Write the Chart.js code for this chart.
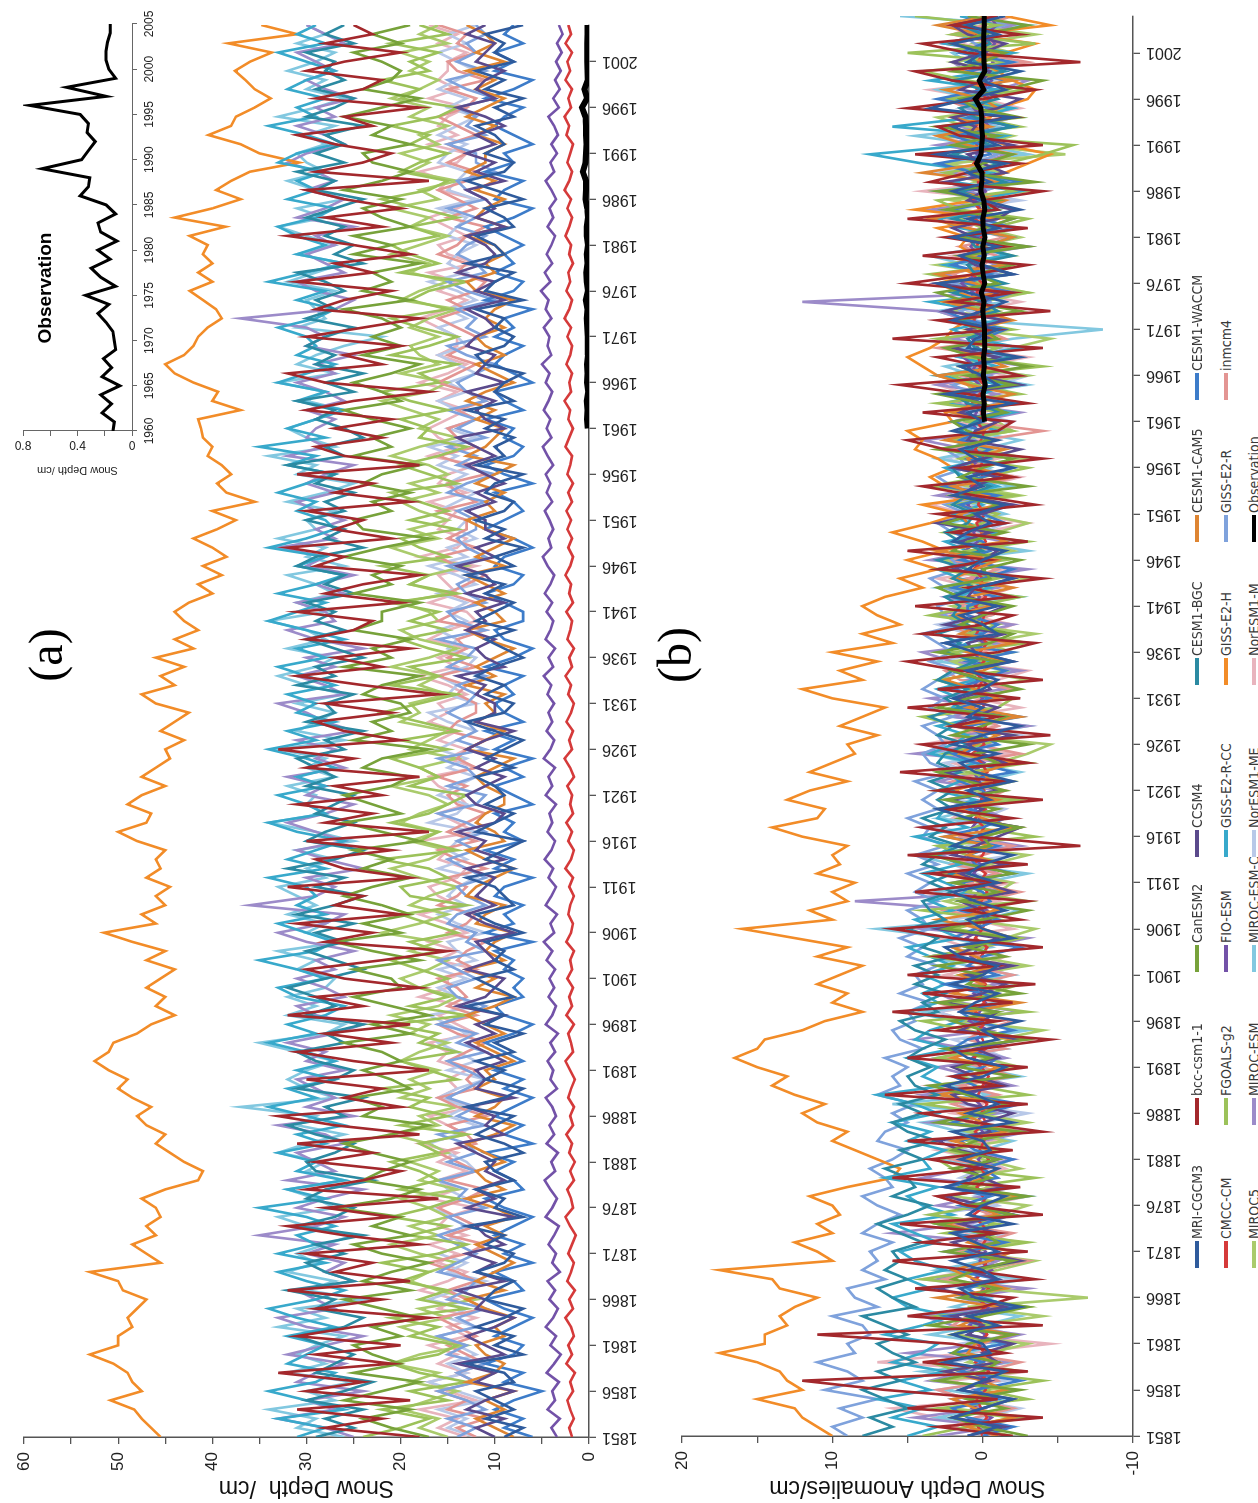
<!DOCTYPE html>
<html><head><meta charset="utf-8">
<script src="https://cdn.jsdelivr.net/npm/chart.js@4.4.0/dist/chart.umd.min.js"></script>
<style>
html,body{margin:0;padding:0;background:#fff;width:1258px;height:1503px;overflow:hidden;}
#wrap{position:absolute;left:0;top:0;width:1503px;height:1258px;transform-origin:0 0;transform:translate(0px,1503px) rotate(-90deg);background:#fff;}
#wrap canvas{position:absolute;}
.lbl{position:absolute;white-space:nowrap;color:#000;transform:translate(-50%,-50%);}
.leg{position:absolute;height:18px;display:flex;align-items:center;overflow:hidden;white-space:nowrap;font:14px "Liberation Sans Narrow","DejaVu Sans Condensed",Arial,sans-serif;color:#3a3a3a;}
.leg i{display:inline-block;width:27px;height:4px;margin-right:2px;flex:none;}
</style></head><body>
<div id="wrap">
<canvas id="cA" width="1503" height="650" style="left:0;top:0"></canvas>
<canvas id="cB" width="1503" height="545" style="left:0;top:645px"></canvas>
<canvas id="cI" width="518" height="170" style="left:985px;top:0"></canvas>
<div class="lbl" style="left:848px;top:45px;font:48px 'Liberation Serif','Times New Roman',serif;">(a)</div>
<div class="lbl" style="left:848px;top:674px;font:48px 'Liberation Serif','Times New Roman',serif;">(b)</div>
<div class="lbl" style="left:1215px;top:45px;font:bold 19px 'Liberation Sans',Arial,sans-serif;">Observation</div>
<div id="legend"></div>
</div>
<script>
// ---------- categories / ticks ----------
const years = []; for (let y = 1851; y <= 2005; y++) years.push(y);
const obsYears = []; for (let y = 1960; y <= 2005; y++) obsYears.push(y);
const yearTicks = [1851,1856,1861,1866,1871,1876,1881,1886,1891,1896,1901,1906,1911,1916,1921,1926,1931,1936,1941,1946,1951,1956,1961,1966,1971,1976,1981,1986,1991,1996,2001];
const insetYearTicks = [1960,1965,1970,1975,1980,1985,1990,1995,2000,2005];
const depthTickMarks = [0,5,10,15,20,25,30,35,40,45,50,55,60];
const depthTickLabels = [0,10,20,30,40,50,60];
const anomTickMarks = [-10,-5,0,5,10,15,20];
const anomTickLabels = [-10,0,10,20];
const obsTickMarks = [0,0.2,0.4,0.6,0.8];
const obsTickLabels = [0,0.4,0.8];

// ---------- panel (a): snow depth (cm), 1851-2005 ----------
const aMRI = [
9,7,11,8,10,12,8,9,13,7,
10,8,12,9,7,11,10,8,12,9,
8,11,9,13,7,10,9,12,8,10,
11,7,9,12,10,8,13,9,7,11,
9,12,8,10,7,11,9,13,8,10,
12,8,10,9,11,7,10,12,8,9,
10,13,8,11,9,7,12,10,8,11,
9,10,12,8,11,9,7,10,13,9,
8,11,9,12,10,7,9,11,8,12,
10,8,11,9,13,8,10,7,11,9,
12,9,8,11,10,7,12,9,10,8,
11,9,13,8,10,9,7,11,12,9,
8,10,9,12,7,11,10,8,13,9,
10,12,8,9,11,7,10,13,9,8,
11,9,10,12,8,10,7,11,9,12,
8,10,9,11,7];
const aBCC = [
18,28,22,31,19,30,24,33,21,29,
20,31,25,17,29,22,32,19,27,23,
30,18,26,32,21,28,16,30,24,20,
29,23,31,18,27,33,20,26,22,30,
17,25,31,21,28,19,32,24,29,18,
26,30,22,15,28,23,31,20,27,24,
32,19,26,29,21,30,17,28,23,31,
22,27,18,30,25,33,20,26,29,21,
28,16,24,31,22,27,19,30,25,23,
31,20,28,24,18,29,26,32,21,27,
24,30,19,27,23,31,18,26,29,22,
27,21,30,25,17,28,32,22,26,20,
30,24,18,29,26,21,31,23,27,19,
25,32,22,28,20,26,30,17,29,24,
21,27,31,23,26,18,29,24,22,30,
26,20,28,23,25];
const aCan = [
17,21,24,19,26,22,18,25,20,23,
25,20,23,18,22,26,19,24,21,17,
22,25,19,23,20,27,21,18,24,22,
19,23,26,21,17,24,22,25,19,21,
24,20,22,26,19,23,17,21,25,20,
21,25,18,23,27,20,24,19,22,26,
23,19,24,21,25,18,22,26,20,23,
26,21,19,24,22,17,25,21,23,19,
20,24,22,18,26,21,23,19,25,22,
22,18,25,21,23,20,26,22,17,24,
25,21,23,19,24,22,18,25,21,23,
19,23,26,20,22,25,21,18,24,20,
23,20,22,26,19,24,21,23,18,25,
21,25,19,22,24,20,26,22,19,23,
24,19,23,21,26,22,18,24,21,20,
22,25,20,23,19];
const aCCSM4 = [
10,12,9,13,11,8,12,10,14,9,
11,13,10,8,12,11,14,9,12,10,
13,9,11,12,8,13,10,12,9,11,
10,12,14,9,11,10,13,8,12,11,
12,9,11,13,10,12,9,14,11,10,
9,13,10,11,12,8,11,13,10,12,
11,10,13,9,12,11,14,10,9,12,
13,11,9,12,10,13,11,8,12,10,
10,12,11,14,9,11,12,10,13,11,
12,9,13,10,11,14,10,12,9,11,
11,13,10,12,9,11,13,10,12,14,
9,11,12,10,13,9,12,11,10,13,
12,10,11,13,9,12,10,14,11,10,
11,13,9,12,10,11,13,9,12,10,
13,10,12,9,11,14,10,12,11,9,
12,11,10,13,11];
const aBGC = [
29,25,28,24,30,26,23,29,27,25,
28,31,26,24,29,27,32,25,28,30,
26,29,24,31,27,25,30,28,23,29,
30,27,25,29,32,26,28,24,31,27,
25,29,31,26,28,24,30,27,29,32,
28,24,27,30,26,29,25,31,27,24,
29,26,32,27,24,30,28,25,29,27,
25,30,27,29,31,26,28,24,30,27,
28,25,31,27,29,24,27,30,26,29,
27,30,25,28,26,31,29,24,28,26,
30,26,28,25,29,27,32,26,28,24,
26,29,27,31,25,28,24,29,27,30,
28,25,30,27,29,26,28,31,24,27,
25,28,26,30,27,24,29,27,31,26,
29,26,28,24,30,27,25,29,26,28,
27,30,25,28,26];
const aCAM5 = [
8,10,12,9,11,8,13,10,9,11,
12,9,10,8,11,13,9,12,10,8,
10,12,9,11,8,10,13,9,11,12,
9,11,13,10,8,12,10,9,12,10,
11,8,10,12,9,11,13,10,8,12,
10,13,9,11,10,8,12,11,9,13,
12,10,8,11,13,9,10,12,11,9,
9,11,12,10,8,13,11,9,12,10,
11,9,13,10,12,10,8,11,13,9,
10,12,9,11,13,9,12,10,8,11,
13,10,11,9,12,10,8,13,11,10,
9,12,10,13,11,8,10,12,9,11,
12,9,11,10,8,12,13,10,11,9,
10,13,9,12,11,9,12,10,13,11,
11,9,12,10,13,11,9,12,10,13,
9,12,10,11,13];
const aWACCM = [
6,9,7,10,8,5,9,7,11,8,
7,10,8,6,9,11,7,8,10,6,
9,7,10,8,6,9,11,7,8,10,
8,11,6,9,7,10,8,6,9,7,
10,7,9,11,8,6,9,10,7,8,
7,9,8,10,6,11,8,9,7,10,
9,6,10,8,11,7,9,8,10,6,
8,10,7,9,6,10,8,11,7,9,
10,8,9,7,11,8,6,9,10,7,
7,9,11,8,7,10,9,6,8,11,
9,7,8,10,6,9,11,8,7,9,
8,11,7,9,10,6,8,10,9,7,
10,8,9,6,11,8,7,10,8,9,
7,9,11,8,6,10,9,7,11,8,
9,6,8,10,9,7,11,8,6,10,
8,10,7,9,8];
const aCMCC = [
1.8,2.1,1.6,2.0,2.3,1.7,2.0,1.5,2.4,1.8,
2.2,1.6,1.9,2.5,1.7,2.1,1.5,2.3,1.9,1.6,
2.2,1.8,1.4,2.0,2.5,1.7,1.9,2.3,1.6,2.0,
1.5,2.1,1.8,2.4,1.7,2.0,1.6,2.2,1.9,1.5,
2.0,2.5,1.7,1.9,2.2,1.6,2.4,1.8,2.1,1.7,
2.3,1.8,2.0,1.6,2.4,1.9,1.7,2.2,2.0,1.6,
2.1,1.7,2.5,1.9,1.6,2.2,1.8,2.4,1.7,2.0,
1.8,2.3,1.6,2.0,2.6,1.8,2.1,1.7,2.4,1.9,
1.6,2.2,1.9,2.5,1.8,2.1,1.6,2.3,2.0,1.8,
2.4,1.7,2.1,1.9,2.5,2.0,1.7,2.2,1.8,2.3,
1.9,2.4,1.8,2.2,1.7,2.3,2.0,1.8,2.5,2.1,
1.7,2.2,2.0,2.6,1.9,2.1,1.8,2.4,2.0,1.8,
2.3,1.9,2.6,2.1,1.8,2.4,2.0,2.2,1.7,2.1,
1.9,2.5,2.1,1.8,2.3,1.9,2.6,2.1,1.8,2.3,
2.0,1.7,2.4,2.1,2.6,1.9,2.2,1.8,2.5,2.0,
2.3,1.8,2.5,1.9,2.2];
const aFGOALS = [
24,20,17,22,15,19,13,18,21,16,
14,19,16,21,13,18,15,20,17,22,
16,13,19,15,21,17,14,20,16,18,
21,16,18,13,20,15,19,17,22,14,
17,20,14,18,16,21,13,19,15,18,
15,18,21,16,19,14,17,20,13,19,
20,15,17,22,14,18,16,21,17,15,
13,19,16,18,21,15,20,14,18,22,
18,14,21,16,19,13,17,20,15,19,
16,21,14,19,17,22,15,18,20,14,
19,15,18,21,14,17,20,16,13,18,
17,20,15,19,22,16,18,14,21,17,
14,18,21,15,19,17,13,20,16,19,
21,16,19,14,18,22,17,15,20,18,
15,19,17,21,16,14,20,18,22,17,
19,16,21,15,18];
const aFIO = [
3.4,4.0,3.1,4.4,3.6,3.9,3.2,4.5,3.7,3.0,
4.1,3.5,4.6,3.8,3.3,4.2,3.6,4.4,3.1,3.9,
3.5,4.3,3.7,3.2,4.6,3.9,3.4,4.1,4.7,3.6,
4.0,3.3,4.5,3.7,4.2,3.5,3.9,4.6,3.4,4.1,
3.8,4.4,3.6,4.1,3.3,4.6,3.9,3.5,4.3,3.7,
4.2,3.6,4.5,3.9,4.8,3.7,4.1,3.4,4.6,4.0,
3.5,4.3,3.8,4.7,4.0,3.6,4.4,3.9,4.2,3.5,
4.6,3.9,4.3,3.6,4.8,4.1,3.7,4.5,3.9,4.3,
3.7,4.4,4.0,4.8,3.8,4.3,3.6,4.6,4.1,3.8,
4.5,3.9,4.7,4.1,3.7,4.4,4.9,4.0,4.3,3.8,
4.2,4.7,3.9,4.5,4.1,4.6,3.8,4.4,4.9,4.0,
4.5,4.1,4.8,4.3,3.9,4.6,4.2,5.0,4.0,4.4,
4.2,4.8,4.0,4.6,4.3,5.1,4.1,4.7,3.9,4.5,
4.0,3.6,4.4,3.8,4.2,3.5,4.0,4.6,3.7,4.1,
3.4,4.0,3.3,3.7,4.3,3.2,3.8,3.1,3.6,3.0,
3.5,2.9,3.4,2.8,3.2];
const aGISSRCC = [
31,28,33,26,30,34,29,27,32,30,
28,32,27,31,34,29,26,30,33,28,
33,29,31,27,30,35,28,32,26,31,
29,33,28,31,26,30,34,29,32,27,
31,27,30,34,29,32,28,26,31,33,
28,31,35,29,27,30,33,28,31,29,
30,34,28,32,29,26,31,34,28,30,
33,28,31,27,30,34,29,32,27,31,
29,32,27,30,33,28,31,26,30,34,
31,28,33,29,26,31,28,34,30,27,
28,31,29,33,30,27,32,29,35,28,
32,29,26,31,28,33,30,27,31,29,
30,33,29,27,31,28,34,30,26,31,
28,31,33,29,27,32,29,31,28,33,
31,27,30,34,29,31,28,32,30,27,
30,33,28,31,29];
const aGISSH = [
45.5,46.5,47.5,48.3,50.8,47.5,48.5,49,50.5,53,
50,50,48.5,49,48,47,49.5,50,53,45.5,
47,48.5,46,47,45.5,46,47.5,45,41.5,41,
43,44.5,46,45,47,48,46.5,48.5,50,49,
51,52.5,51,50.5,48,46.5,44,46,45,47,
45.5,44,47,45,48.5,51.5,46,47.5,45,46,
44.5,47,45.5,46,45,48,50,47,46.5,49,
47.5,45,47.5,46,44.5,45,43,45.5,44,42.5,
46,47.5,44,45.5,43,46,42,44,41.5,43,
44,42.5,40,41.5,39,41,38.5,40,42,39.5,
37.5,40,35.5,38.5,39.5,38,39,40.5,40,41,
41.2,41.5,37,40,39.4,42,44,45,43,42,
41.5,40.5,39,39.6,41,42.4,40,41.5,40,41,
40.5,42.4,38.6,44,40,37,39.6,38,36,30.8,
35,37,40.4,38,37.5,35.5,33.8,35.5,36.5,37.6,
36,33.7,38.3,31,34.8];
const aGISSR = [
14,12,15,11,13,16,12,14,11,15,
13,16,12,14,11,15,13,12,16,14,
12,14,16,13,15,11,14,13,16,12,
15,12,13,16,11,14,12,15,13,11,
13,15,11,14,12,16,13,11,14,15,
12,14,16,11,13,12,15,14,11,13,
14,11,13,15,12,14,11,13,16,12,
11,15,12,13,16,11,14,12,13,15,
13,12,14,11,15,13,12,16,11,14,
15,11,13,14,12,15,11,13,14,12,
12,14,11,15,13,10,14,12,15,11,
14,12,15,11,13,14,12,10,13,15,
11,13,12,14,10,13,15,11,12,14,
13,11,14,12,15,11,13,14,10,12,
12,15,11,13,12,14,10,13,15,11,
14,12,13,11,12];
const aINM = [
12,14,11,15,13,16,12,14,11,13,
15,12,14,16,11,13,15,12,14,17,
13,11,15,12,14,16,13,11,15,12,
14,16,12,13,15,11,14,16,12,13,
12,15,13,11,14,16,12,15,13,14,
16,12,14,13,11,15,13,12,16,14,
13,15,11,14,16,12,15,13,11,14,
15,13,16,12,14,13,11,15,14,12,
12,14,13,16,12,15,13,14,11,16,
14,12,15,13,11,14,16,12,15,13,
13,16,12,14,15,11,13,16,12,14,
15,12,14,11,13,16,14,12,15,13,
12,14,16,13,15,12,11,14,13,16,
14,13,11,15,12,14,16,13,12,15,
13,15,12,14,16,13,12,15,11,14,
15,12,14,13,16];
const aMIROC5 = [
15,18,16,20,17,14,19,16,21,18,
13,17,20,15,18,12,16,19,17,14,
18,21,16,19,15,17,20,14,18,16,
19,15,17,21,16,18,14,20,17,19,
16,20,18,15,19,17,21,16,14,18,
20,17,15,19,16,22,18,15,19,17,
14,18,21,17,15,19,16,20,18,15,
17,21,16,18,14,19,17,15,20,18,
19,15,18,16,21,17,14,18,20,16,
17,20,15,19,17,13,18,21,16,19,
15,18,20,16,19,15,17,21,18,14,
18,16,19,22,17,15,20,16,18,19,
16,19,17,14,20,18,15,19,17,21,
18,15,19,17,21,16,18,14,19,17,
20,16,18,15,19,17,21,18,16,19,
17,20,15,18,16];
const aMESM = [
25,28,33,27,30,24,31,29,26,32,
28,24,30,33,27,29,31,25,28,26,
30,27,35,29,26,31,28,24,32,27,
29,31,26,28,33,25,30,27,29,31,
26,30,28,32,27,24,29,31,26,28,
31,27,29,25,30,33,28,26,36,29,
27,30,24,28,31,26,29,32,28,25,
30,28,32,26,29,27,31,25,28,30,
33,26,28,31,27,30,24,29,32,27,
28,31,26,29,25,30,28,33,27,29,
26,29,31,27,30,28,25,32,28,30,
29,27,30,26,28,31,27,29,25,30,
28,30,37,27,25,29,31,26,28,30,
27,29,25,31,28,26,30,27,29,32,
30,26,28,31,27,29,25,28,30,27,
29,31,26,28,30];
const aMCHEM = [
26,31,29,34,27,30,25,32,28,31,
29,26,33,28,31,24,30,27,32,29,
31,28,25,30,33,27,29,32,26,30,
28,33,30,26,31,29,37,27,30,32,
30,27,31,35,28,26,32,29,32,28,
27,31,29,33,26,30,28,32,29,31,
33,28,30,27,31,25,29,34,28,30,
29,32,27,30,28,33,26,31,29,27,
31,26,30,33,29,27,32,28,30,34,
28,31,27,29,32,26,30,28,33,29,
30,27,32,28,25,31,29,34,27,30,
32,29,26,30,28,33,27,31,29,26,
22,31,28,29,30,27,32,29,26,31,
27,30,33,28,31,26,29,32,28,30,
31,28,30,27,33,29,26,30,28,32,
29,27,31,28,30];
const aNorME = [
12,15,13,16,11,14,17,13,15,12,
14,16,12,15,13,17,14,11,15,13,
16,13,15,12,14,17,13,15,16,12,
13,15,17,14,12,15,13,16,14,11,
15,12,14,16,13,15,17,12,14,16,
13,16,12,14,15,11,14,16,13,15,
14,12,16,13,15,14,12,17,14,13,
16,14,12,15,13,16,14,12,15,17,
12,15,14,16,13,12,15,14,16,13,
15,13,16,12,14,17,13,15,12,14,
13,16,14,12,15,13,16,14,17,12,
15,12,14,16,13,15,12,14,16,13,
14,16,13,15,12,14,17,13,15,14,
12,15,14,13,16,12,15,14,13,16,
15,13,16,14,12,15,13,16,14,12,
14,16,13,15,12];
const aNorM = [
13,16,14,18,12,15,17,13,16,14,
17,13,15,12,16,14,18,15,13,16,
14,17,13,16,15,12,17,14,16,13,
16,14,18,13,15,17,12,16,14,15,
13,16,15,17,12,14,16,13,18,15,
15,12,16,14,17,13,15,18,14,16,
17,14,13,16,15,18,12,14,16,13,
14,16,17,12,15,13,16,14,17,15,
16,13,15,18,14,16,13,17,15,12,
13,17,14,15,16,12,18,14,13,16,
15,14,17,13,16,15,12,17,14,16,
17,15,13,16,14,18,15,13,16,14,
14,16,18,15,13,16,14,17,12,15,
16,13,15,17,14,12,16,15,18,14,
13,17,14,16,15,13,17,14,16,15,
15,13,16,14,17];
// observation 1960-2005
const obs = [
0.14,0.13,0.22,0.15,0.23,0.09,0.22,0.15,0.21,0.12,
0.13,0.14,0.19,0.25,0.17,0.34,0.12,0.23,0.30,0.16,
0.25,0.11,0.23,0.25,0.12,0.19,0.38,0.32,0.31,0.66,
0.37,0.32,0.27,0.33,0.32,0.38,0.75,0.19,0.48,0.12,
0.17,0.19,0.19,0.18,0.16,0.16];

// ---------- panel (b): snow depth anomalies (cm), 1851-2005 ----------
const bMRI = [
1,-1,2,0,-2,1.5,0,-1.5,2.5,-0.5,
0,2,-1,1,-2.5,0.5,1.5,-1,0,2,
-1,0.5,2,-2,1,0,-1.5,2.5,0.5,-1,
1.5,-0.5,0,2,-2,1,-1,0.5,2.5,0,
-1.5,1,2,-1,0,-2.5,1.5,0.5,-1,2,
0,-1,1.5,2.5,-2,0,1,-1.5,0.5,2,
-1,1,0,-2,2,0.5,-1.5,1,3,-0.5,
1,-2,0.5,1.5,-1,2,0,-2.5,1,0,
2,0,-1,1,-2,0.5,2.5,-1,0,1.5,
-1,2,0.5,-2,1,0,-1.5,2,1,-0.5,
0.5,-1.5,2,0,1,-2,0.5,1.5,-1,2,
0,1,-2,2.5,-1,0,1.5,-2.5,1,0.5,
-1,2,0,-1.5,1,3,-2,0,1.5,-1,
2,-1,1,-2.5,0,2,-0.5,1,-1.5,3,
-1,0.5,2,-2,3.5,1,-1.5,0,-2.5,1,
0,2,-1,1,-1.5];
const bBCC = [
-2,3,-4,5,-1,6.5,12,-3,4,-1.5,
2,11,-4,5,0,-2,4.5,-3.5,1,6,
-3,4,-1,5.5,-4,1,3,-2.5,6,0,
3.5,-2,5,-4,0.5,4,-3,6.5,-1,2,
-3,5,0,-4.5,3,-1,6,-2,4,-3.5,
5,-1,3,-4,2,6,-2.5,1,-3,4.5,
-1,3.5,-3,5,-6.5,0.5,4,-2,2.5,-4,
3,-1.5,5.5,-3,1,4,-4.5,2,-1,5,
-2.5,3,-4,1.5,5,-1,-3.5,4,0,-2,
4.5,-2,1,-4,3,-0.5,5,-3,2,-1.5,
3,-3.5,0.5,4,-2,1.5,-4,2.5,5,-1,
-2,4,-3,1,5.5,-2.5,0,3,-4,6,
-1,3,-4.5,2,-2,5,0.5,-3,4,-1.5,
2.5,-3,5,-1,0,-4,3.5,1,-2.5,4.5,
-4,1.5,3,-2,5,0,-3.5,2,4.5,-6.5,
1,4,-2.5,2,-1];
const bCan = [
-3,0,2,-1.5,1,-2.5,3,0,-1,2,
1,-2,3.5,0,-3,1.5,-1,2,0.5,-2,
2.5,-1,0,3,-2,1,-3,1.5,-0.5,2,
-1,2,0.5,-2.5,3,0,-1.5,1,3.5,-2,
1.5,-0.5,2.5,-3,0,2,-1,3,-2.5,1,
0,3,-1.5,1,-2,2.5,0,-3,1.5,-1,
2,-2,1,3.5,-0.5,0,-2.5,1.5,-1,2.5,
-1.5,1,3,-1,0.5,-3,2,0,-1.5,3,
1,-2.5,0,2,-1,3,-0.5,-2,1.5,0,
-2,1.5,3,-0.5,0,-2.5,2,1,-1.5,2.5,
0.5,-1,2,-3,1.5,0,-2,3,-0.5,1,
2,-1.5,0,3,-2,1,-3,0.5,2.5,-1,
0,2,-2.5,1,3,-1,0.5,-2,1.5,-3,
1.5,0,-2,2.5,-1,3,-3.5,1,0,-2,
2,-1,3,-2.5,0.5,1.5,-1.5,-4,2,0,
-1.5,2,0,-3,1];
const bCCSM4 = [
1,-1.5,2,0,-2,1.5,-0.5,2.5,-1,0,
-2,1,0,2,-1.5,0.5,3,-1,1,-2.5,
0.5,2,-1,1.5,-2,0,2.5,-1.5,0,1,
-1,1.5,3,-0.5,0,-2,1,2,-1.5,0.5,
2,-1,0.5,-2.5,1.5,0,-1,2.5,0,-1.5,
1,-2,2,0.5,-1,3,-0.5,0,1.5,-2,
0,1.5,-1.5,2,0.5,-1,-2.5,1,0,2,
-1,0.5,2.5,-1.5,0,1,-2,2,0.5,-1,
1.5,-0.5,0,2,-2,0.5,1,-1.5,2.5,0,
-1.5,1,0.5,-2,2,0,-1,1.5,-0.5,3,
0,-2,1.5,0.5,-1,2,0,-2.5,1,0.5,
-1,1.5,0,2,-2.5,0.5,1,-1,2,-0.5,
1,-1.5,2.5,0,-1,3,-2,0.5,1.5,-1,
0.5,2,-1,-2,1,0,2.5,-1.5,0,1,
-2,1,0.5,2,-1,-2.5,1.5,0,-0.5,2,
0,-1.5,1,2,-1];
const bBGC = [
8,6,7.5,5,6.5,8,5.5,7,4.5,6,
7,5,6.5,8,4.5,6,7,5,6.5,5.5,
6,4,5.5,7,5,3.5,6,4.5,5,6.5,
4,5.5,3,5,6,4,5.5,3,4.5,5,
3.5,5,4,2.5,4.5,5.5,3,4,2.5,4.5,
3,4.5,2,4,3,5,2.5,3.5,4,2,
3.5,2,4,3,1.5,3.5,2.5,4,2,3,
2,3.5,1.5,3,2.5,1,3,2,3.5,1.5,
2.5,1,3,2,0.5,2.5,1.5,3,1,2,
1.5,2.5,0.5,2,1,3,0,1.5,2.5,1,
0.5,2,1,-0.5,1.5,2,0,1,-0.5,1.5,
0.5,-1.5,1,2,-1,0,1.5,-2,0.5,1,
-0.5,1.5,-1,0,2,-1.5,0.5,1,-2,0.5,
1,-1,2,-0.5,0,1.5,-1.5,0.5,-1,2,
-0.5,1,-2,0.5,1.5,-1,0,2,-1.5,0.5,
1,-0.5,0,1.5,-1];
const bCAM5 = [
-1,1,-2,0.5,2,-1.5,0,2.5,-1,1,
0.5,-2,1.5,0,-1,3,-1.5,0.5,2,-0.5,
-2,1,0,2.5,-1,0.5,-2.5,1.5,0,-1,
1,-0.5,2,-1.5,0,1.5,-2,3,-1,0.5,
-1,2,0,-2,1.5,-0.5,1,-2.5,2,0,
1.5,-1,0.5,2,-2,0,3,-1,0.5,-1.5,
0,2,-1.5,1,-0.5,2.5,-2,0,1.5,-1,
2,-0.5,0,-2,1.5,0.5,-1,2,-2.5,1,
-1,0.5,2.5,0,-1.5,1,-2,1.5,0,2,
-0.5,1,-2,2,0.5,-1,3,-1.5,0,1,
1.5,-1,0,2,-2,0.5,1,-1.5,2.5,0,
-1,2,0.5,-2,1,3,-1.5,0,2,-1,
1,-2,0,2.5,-1,0.5,3,-1.5,1,0,
-2,1,3.5,0,-1.5,2,-1,4,0,-2,
1,3,-0.5,2,-1,0,2.5,-2,1.5,0.5,
-1,2,0,3,-0.5];
const bWACCM = [
0,-2,1,2,-1,0.5,-2.5,1.5,0,2,
-1.5,1,0,2.5,-2,0,1,-1,2,-0.5,
1,-1.5,2,0,-2,1.5,-0.5,2.5,-1,0,
-2,0.5,1.5,-1,2,0,-2.5,1,0.5,2,
0,-1,2,1,-2,0.5,1.5,-1.5,0,2.5,
-1,1,0,-2.5,2,0.5,-1,1.5,-0.5,0,
1.5,-2,0.5,1,-1,2.5,0,-1.5,1,-0.5,
0,1.5,-2,0.5,2,-1,0,1,-2.5,1.5,
-0.5,2,0,-1.5,1,-2,2.5,0,-1,1,
1,-1,2,0,-2,1.5,-0.5,0,2,-1.5,
0,1.5,-1,2.5,0,-2,1,-0.5,1.5,0,
2,-1,0,1.5,-2.5,0.5,1,-1,2,0,
-1.5,1,2.5,0,-2,1,-0.5,2,0,-1,
1,-2,0,2,-1,1.5,-2.5,0.5,3,-0.5,
0,2,-2,1,-0.5,3,0,-1.5,1,-2,
1.5,0,-1,2,0.5];
const bCMCC = [
0,0.3,-0.3,0.1,0.4,-0.2,0.1,-0.4,0.5,-0.1,
0.3,-0.3,0,0.6,-0.2,0.2,-0.4,0.4,0,-0.3,
0.3,-0.1,-0.5,0.1,0.6,-0.2,0,0.4,-0.3,0.1,
-0.4,0.2,-0.1,0.5,-0.2,0.1,-0.3,0.3,0,-0.4,
0.1,0.6,-0.2,0,0.3,-0.3,0.5,-0.1,0.2,-0.2,
0.4,-0.1,0.1,-0.3,0.5,0,-0.2,0.3,0.1,-0.3,
0.2,-0.2,0.6,0,-0.3,0.3,-0.1,0.5,-0.2,0.1,
-0.1,0.4,-0.3,0.1,0.7,-0.1,0.2,-0.2,0.5,0,
-0.3,0.3,0,0.6,-0.1,0.2,-0.3,0.4,0.1,-0.1,
0.5,-0.2,0.2,0,0.6,0,0.3,-0.2,0.1,0.4,
-0.2,0.3,0.1,0.7,0,0.2,-0.1,0.5,0.1,-0.1,
0.4,0,0.7,0.2,-0.1,0.5,0.1,0.3,-0.2,0.2,
0,0.6,0.2,-0.1,0.4,0,0.7,0.2,-0.1,0.4,
0.1,-0.2,0.5,0.2,0.7,0,0.3,-0.1,0.6,0.1,
0.4,-0.2,0.5,-0.1,0.3,-0.3,0.4,0,-0.2,0.3,
0,-0.3,0.4,-0.2,0.1];
const bFGOALS = [
4,1,-2,3,-3,0,-4,1.5,3.5,-1,
-2,2,-0.5,3,-3,1,-1.5,4,0,-2.5,
1,-3,2.5,-1,3.5,0,-2,1,-3.5,2,
3,-1,1,-2.5,2,-0.5,4,-3,0.5,1.5,
-1.5,3,0,-2,1,4,-3,2,-0.5,-2.5,
1.5,-1,3.5,0,-2.5,2,-1,4,-3,1,
0,2.5,-2,1,3,-3.5,0.5,-1,2,-2.5,
3,-1.5,1,-3,2.5,0,-2,1.5,4,-1,
-2,1,3,-1.5,0,2,-3,1,-1,3.5,
0.5,-2.5,2,-1,3,-1.5,1,-3,2.5,0,
-1,2,-2,3.5,0,-3,1.5,-0.5,2,-2,
1,-1.5,3,-2.5,0.5,2,-4,1,-1,3,
-2,1.5,-1,2.5,-3,0,3.5,-1.5,1,-2.5,
2,-0.5,-3,1.5,3,-2,0,2.5,-1.5,-4,
-6,3,-2.5,0.5,-1,2.5,-3,1,4,-2,
5,-3.5,2,-1,4.5];
const bFIO = [
-0.3,0.3,-0.6,0.7,-0.1,0.2,-0.5,0.8,0,-0.7,
0.4,-0.2,0.9,0.1,-0.4,0.5,-0.1,0.7,-0.6,0.2,
-0.2,0.6,0,-0.5,0.9,0.2,-0.3,0.4,1,-0.1,
0.3,-0.4,0.8,0,0.5,-0.2,0.2,0.9,-0.3,0.4,
0.1,0.7,-0.1,0.4,-0.4,0.9,0.2,-0.2,0.6,0,
0.5,-0.1,0.8,0.2,1.1,0,0.4,-0.3,0.9,0.3,
-0.2,0.6,0.1,1,0.3,-0.1,0.7,0.2,0.5,-0.2,
0.9,0.2,0.6,-0.1,1.1,0.4,0,0.8,0.2,0.6,
0,0.7,0.3,1.1,0.1,0.6,-0.1,0.9,0.4,0.1,
0.8,0.2,1,0.4,0,0.7,1.2,0.3,0.6,0.1,
0.5,1,0.2,0.8,0.4,0.9,0.1,0.7,1.2,0.3,
0.8,0.4,1.1,0.6,0.2,0.9,0.5,1.3,0.3,0.7,
0.5,1.1,0.3,0.9,0.6,1.4,0.4,1,0.2,0.8,
0.3,-0.1,0.7,0.1,0.5,-0.2,0.3,0.9,0,0.4,
-0.3,0.3,-0.4,0,0.6,-0.5,0.1,-0.6,-0.1,-0.7,
-0.2,-0.8,-0.3,-0.9,-0.5];
const bGISSRCC = [
5,3,6,4,7,3.5,5.5,2.5,6,4,
3,6.5,4,2,5,6,3.5,5,2.5,4.5,
5.5,3,4.5,6,2,4,5,3,6.5,3.5,
4,2.5,5,3.5,6,3,4.5,7,2.5,4,
3,5,2,4.5,3.5,1.5,5,3,4,2.5,
4,2,3.5,5,1.5,3,4.5,2,3.5,1,
2.5,4,1.5,3,2,4.5,1,3,2.5,0.5,
3,1.5,2.5,0.5,3.5,2,1,3,0,2,
1.5,3,0.5,2,-0.5,2.5,1,0,2,1.5,
0.5,2,-0.5,1.5,3,0,1,2.5,-1,1,
2,0,1.5,-1,1,2.5,-0.5,0.5,2,-1,
1,-2,2.5,0,-1.5,3,-1,1.5,-2.5,0.5,
2,-1,0,3.5,-2,1,-0.5,2.5,-1.5,0,
-2,1.5,3,-1,0.5,-2.5,2,-0.5,4,7.5,
1,-1.5,6,0.5,-2,2,-1,3.5,-0.5,1,
-2,2.5,0,-1,1.5];
const bGISSH = [
10,11,12,12.5,15,12,13,13.5,15,17.5,
14.5,14.5,13,13.5,12.5,11,13.5,14,17.5,10,
11,12.5,10,11,9.5,10,11.5,9,6,5.5,
7,8.5,10,9,11,12,10.5,12.5,14,13,
15,16.5,15,14.5,12,10.5,8,10,9,11,
9.5,8,11,9,12.5,16,10,11.5,9,10,
8.5,11,9.5,10,9,12,14,11,10.5,13,
11.5,9,11.5,10,8.5,9,7,9.5,8,6.5,
10,12,8,9.5,7,10,6,8,5.5,7,
8,6.5,4,5.5,3,5,2.5,4,6,3.5,
1.5,4,-0.5,2.5,3.5,2,3,4.5,4,5,
2,2.5,-1.5,1,0.5,3,4,5,3.5,2.5,
2,1,-0.5,0,1.5,3,0.5,2,0.5,1.5,
1,3,-1,4.5,0.5,-2,0,-1.5,-3,-4.5,
-1.5,0,2.5,-0.5,-1,-3,-3.5,-2,-1,0,
-1.5,-3.5,1,-4.5,-1.5];
const bGISSR = [
9,10,8,9.5,7,10.5,8,9,11,8.5,
9,7.5,8,10,7,8.5,9,6.5,8,7,
7.5,6,8,7,5.5,7,8,6,6.5,7.5,
6,5,7,6.5,5,6,4.5,7,5.5,6,
5,6.5,4,5.5,6,4.5,5,3.5,5.5,4,
4.5,3,5,4,5.5,3.5,4,5,3,4.5,
3.5,5,3,4.5,2.5,4,3.5,5,3,4,
3,4.5,2,3.5,4,2.5,3,4,2,3.5,
2.5,4,3,1.5,3.5,2,3,4,1.5,2.5,
3,1,2.5,3.5,1.5,2,3,0.5,2,3,
1,2.5,0,2,3,1,1.5,2.5,0.5,1.5,
0,1.5,-1,0.5,2,-0.5,1,-1.5,0.5,1,
-1,0.5,1.5,-0.5,0,2,-1,0.5,1,-1.5,
0.5,-1,1,2,-0.5,0,-2,1,0.5,-1,
1.5,-0.5,0,-1.5,1,0.5,-1,2,-0.5,0,
-1,0.5,1.5,-1.5,0];
const bINM = [
-1,2,0.5,-2,1,3,-1,0,-2.5,1.5,
0,-1.5,2,1,-2,0.5,-1,2.5,0,-3,
1.5,0,-2,2,-0.5,1,3,-1.5,0,-1,
2,-1,0.5,-2.5,1,0,2,-1,1.5,-2,
0,2.5,-1.5,1,0,-2,1,3,-1,0.5,
-2,1,0,2,-1.5,0.5,-1,2.5,0,-2.5,
1,-1,2,0,-2,1.5,0.5,-1,2,0,
-1.5,2,0,1,-2.5,0.5,2,-1,0,1.5,
0,-2,1.5,2.5,-1,0,-1.5,1,2,-0.5,
1.5,0,-2,1,-1,2,0.5,-2.5,1,0,
-1,1.5,2,0,-2,1,-0.5,2,0,-4,
1,-1,2,0.5,-2,1.5,0,-1,3,-1.5,
0,2,-1,1,-2.5,0.5,2,0,-1,1.5,
-1.5,1,0,2.5,-1,0,-2,1.5,0.5,-1,
2,-1,0.5,-2,1,2.5,0,-1.5,1,-3,
0.5,-1,2,0,-2];
const bMIROC5 = [
-2,1,-3,2,0,-1.5,3,-2.5,1,-0.5,
-3,2,0.5,-4,1,-7,0,2.5,-1,-3.5,
1.5,-2,0,3,-1,-3,2,-0.5,1,-2.5,
0,2.5,-1.5,1,-3,0.5,-2,3,-1,1.5,
-2.5,0,2,-1,-4,1.5,-0.5,2.5,-2,0,
1,-3,0.5,2,-1.5,-3.5,1,0,2.5,-1,
-2,1.5,-0.5,-3,2,0,-2.5,1,3,-1.5,
0.5,-2,2,-1,-3,-4.5,1.5,0,-2,2,
-1,1,-3,0.5,2,-2,0,-3.5,1.5,-0.5,
2,-1.5,0,-3,1,2.5,-2,0.5,-1,-3,
0,1.5,-2.5,1,-1,2,-3,0,1.5,-2,
-1,2,-2.5,0.5,1,-3,1.5,0,-2,-4.5,
1,-1.5,2,0,-3,1.5,-1,3,-2,0.5,
-2.5,0,1.5,-1,2,-3,0.5,-1.5,2.5,-5.5,
0.5,-2,1,3,-1.5,0,-3,1.5,-1,2,
-2,0.5,-3.5,1,-1];
const bMESM = [
3,-1,4.5,0,2,-2,3.5,1,-1.5,5,
0,-2.5,2,4,-1,1.5,-3,3,0.5,-1,
2.5,-0.5,6,1,-2,3,0,-1.5,4,1,
-2,2,0,-3,3.5,-1,1,4,-2,0.5,
3,-1.5,1,4.5,-0.5,2,-2.5,1.5,3,-1,
1,-2,3.5,0,-3,4,-1,0.5,8.5,-1.5,
2,-1,0.5,3,-2.5,1,4,-1.5,0,2.5,
-1,3,0,-2,4.5,-0.5,1.5,-3,2,0,
3.5,-1.5,1,-2.5,2,4,-1,0.5,-2,3,
0,2.5,-1,1,-3,3.5,0.5,-1.5,2,-0.5,
1.5,-2,3,0,-1,2,-3,1,4,-1.5,
0.5,-2.5,2,-1,3,0,-3,1.5,-1,2,
-1.5,1,3,12,-2,0.5,2.5,-1,1,-3,
2,0,-2,3.5,-1,1,-2.5,2,0,-1.5,
3,-1,1.5,-2,0.5,2.5,-1,-3,1,2,
-1,2.5,0,-2,1.5];
const bMCHEM = [
1,-2,3,0,-1.5,2.5,-0.5,4,-2,1,
-1,3.5,0,-2.5,2,-0.5,1.5,-3,3,0,
2,-1.5,0.5,3,-2,1,-3,2.5,0,-1,
3,0,-2,1.5,4,-1,6,-0.5,2,-2.5,
0.5,3,-1.5,1,-3,2,4,-1,0,2.5,
-2,1,3.5,-0.5,2,7,0,-2.5,1.5,3,
0,-3,2,4.5,-1,1,-2,3,0.5,-1.5,
2.5,0,-2.5,1,3.5,-1,0.5,-3,2,1,
-1,2,0,-2,3,1.5,-1.5,0.5,2.5,-0.5,
1,-2.5,3,0,-1,2,-3,1,0,2.5,
-1.5,0.5,2,-2,1,-0.5,3,0,-2.5,1,
0,2,-1.5,1,-3,0.5,2.5,-1,1.5,-2,
-8,1,3,-1.5,0,2,-2,1,3.5,-0.5,
1,-2.5,0.5,2,-1,3,-1.5,0,2.5,-3,
0,4.5,-1,1.5,-2,0.5,3,-0.5,-2.5,1,
2,-1,0.5,-3,5.5];
const bNorME = [
-1,2,0,-2.5,1,3,-1.5,0.5,2,-1,
1.5,-2,0.5,2.5,-1,0,3,-2,1,-0.5,
2,0,-1.5,1,3.5,-1,0.5,-2,1.5,0,
-2,1,2.5,-0.5,0,-3,1.5,2,-1,0.5,
1,-1.5,0,2,-2.5,1,3,-1,0.5,-2,
0,2.5,-1,1,-2,0.5,2,-1.5,0,3,
-1,0.5,2,-2,1,-0.5,3,0,-1.5,1.5,
0.5,-2,1,2.5,-1,0,-2.5,1.5,0,2,
-1.5,1,0,-2,2.5,0.5,-1,1,3,-0.5,
1,-1,2,0,-2.5,1.5,-0.5,2,0,-1.5,
2,0.5,-1,1.5,-2,0,2.5,-1,1,-0.5,
-2,1,0,2,-1,-3,1.5,0,-1.5,2.5,
0,-1.5,1,2,-2,0.5,-1,2.5,0,-2.5,
1.5,0,-1,2,-2.5,1,0,3,-1.5,0.5,
-1,2,0,-2,1.5,-0.5,2.5,-1.5,0,1,
2,-1,0.5,-2,1];
const bNorM = [
1,-2,3,6,-1,0.5,2,-3,7,1,
-4.5,2,0,3,-1.5,1,-2,4,0.5,-1,
2,-2.5,1,3,-0.5,0,-3,2,1,-1.5,
0,3,-1,1.5,-2.5,2,0,-1,3.5,-2,
1.5,-0.5,2,-3,0,1,3,-1.5,0.5,-2,
2.5,0,-1.5,1,3,-2,0.5,1.5,-1,2,
-2,1,0,3.5,-1,0.5,-2.5,2,1,-1,
3,-1.5,0,2,-2,4,0.5,-1,1.5,-2.5,
0.5,2,-1,-3,1.5,0,2.5,-0.5,-2,1,
2,-1,0.5,3,-2,1,-1.5,2,0,-3,
1,3.5,-0.5,0,-2.5,1.5,-1,2,0.5,-1.5,
2,0,-2,1,3,-1.5,0.5,-3,1.5,0,
-1,2,0.5,-2.5,1,3,-1,0,2,-2,
1,-1.5,2.5,0,-2,4,-1,0.5,2,-3,
0.5,3,-1,1,-2.5,0,3.5,-1.5,1,-1,
-2,1.5,0,2.5,-1];
// observation anomalies 1961-2005
const obsAnom = [
-0.13,-0.04,-0.11,-0.03,-0.17,-0.04,-0.11,-0.05,-0.14,-0.13,
-0.12,-0.07,-0.01,-0.09,0.08,-0.14,-0.03,0.04,-0.10,-0.01,
-0.15,-0.03,-0.01,-0.14,-0.07,0.12,0.06,0.05,0.40,0.11,
0.06,0.01,0.07,0.06,0.12,0.49,-0.07,0.22,-0.14,-0.09,
-0.07,-0.07,-0.08,-0.10,-0.10];

// ---------- series names (legend order, row by row) ----------
const seriesNames = ['MRI-CGCM3','bcc-csm1-1','CanESM2','CCSM4','CESM1-BGC','CESM1-CAM5','CESM1-WACCM',
 'CMCC-CM','FGOALS-g2','FIO-ESM','GISS-E2-R-CC','GISS-E2-H','GISS-E2-R','inmcm4',
 'MIROC5','MIROC-ESM','MIROC-ESM-CHEM','NorESM1-ME','NorESM1-M','Observation'];
const seriesColors = ['#2f5b9c','#a3282c','#77a23a','#5b4a8c','#2b8aa2','#de8532','#3d7cc9',
 '#d53a3a','#9cc25a','#7352a8','#38a9cb','#f28c28','#7fa2dc','#e39593',
 '#aacb6c','#9c8bc9','#82c8e0','#b8c8e8','#e8b4bd','#000000'];
const seriesA = [aMRI,aBCC,aCan,aCCSM4,aBGC,aCAM5,aWACCM,aCMCC,aFGOALS,aFIO,aGISSRCC,aGISSH,aGISSR,aINM,aMIROC5,aMESM,aMCHEM,aNorME,aNorM];
const seriesB = [bMRI,bBCC,bCan,bCCSM4,bBGC,bCAM5,bWACCM,bCMCC,bFGOALS,bFIO,bGISSRCC,bGISSH,bGISSR,bINM,bMIROC5,bMESM,bMCHEM,bNorME,bNorM];

// ---------- helpers ----------
const FONT = "'Liberation Sans', Arial, sans-serif";
function pts(xs, ys){ return xs.map((x,i)=>({x:x, y:ys[i]})); }
function modelSets(list){
  return list.map((arr,i)=>({label:seriesNames[i], data:pts(years,arr), borderColor:seriesColors[i],
    borderWidth:2.6, pointRadius:0, tension:0, fill:false, order:1}));
}
function axisStyle(){ return {
  grid:{display:true, drawOnChartArea:false, drawTicks:true, tickLength:7, color:'#555', lineWidth:1.3},
  border:{display:true, color:'#555', width:1.5}
};}
function yearAxis(min,max,h){
  return Object.assign(axisStyle(), {type:'linear', min:min, max:max,
    afterBuildTicks:s=>{ s.ticks = yearTicks.map(v=>({value:v})); },
    afterFit:s=>{ s.height = h; },
    ticks:{minRotation:90, maxRotation:90, autoSkip:false, padding:6, color:'#222',
      font:{size:16, family:FONT}, callback:v=>String(v)}});
}
function valueAxis(min,max,marks,labels,w,title){
  return Object.assign(axisStyle(), {min:min, max:max,
    afterBuildTicks:s=>{ s.ticks = marks.map(v=>({value:v})); },
    afterFit:s=>{ s.width = w; },
    ticks:{autoSkip:false, padding:8, color:'#222', font:{size:17, family:FONT},
      callback:v=>labels.includes(v)?String(v):''},
    title:{display:true, text:title, color:'#111', font:{size:23, family:FONT}, padding:{top:2,bottom:0}}});
}
const common = {responsive:false, animation:false, devicePixelRatio:1,
  plugins:{legend:{display:false}, tooltip:{enabled:false}, title:{display:false}}};

// ---------- panel (a) ----------
const dsA = modelSets(seriesA);
dsA.push({label:'Observation', data:pts(obsYears.slice(1), obs.slice(1)), borderColor:'#000',
  borderWidth:6, pointRadius:0, tension:0, fill:false, order:0});
new Chart(document.getElementById('cA'), {type:'line', data:{datasets:dsA},
  options:Object.assign({}, common, {
    layout:{padding:{top:24, right:25, left:0, bottom:0}},
    scales:{x:yearAxis(1851,2005,61), y:valueAxis(0,60,depthTickMarks,depthTickLabels,66,'Snow Depth  /cm')}
  })});

// ---------- panel (b) ----------
const dsB = modelSets(seriesB);
dsB.push({label:'Observation', data:pts(obsYears.slice(1), obsAnom), borderColor:'#000',
  borderWidth:5, pointRadius:0, tension:0, fill:false, order:0});
new Chart(document.getElementById('cB'), {type:'line', data:{datasets:dsB},
  options:Object.assign({}, common, {
    layout:{padding:{top:37, right:16, left:0, bottom:0}},
    scales:{x:yearAxis(1851,2005,57), y:valueAxis(-10,20,anomTickMarks,anomTickLabels,67,'Snow Depth Anomalies/cm')}
  })});

// ---------- inset: observation ----------
const insetLabels = {id:'insetLabels', afterDraw(chart){
  const ys = chart.scales.y, ctx = chart.ctx;
  ctx.save(); ctx.font = '12px ' + FONT; ctx.fillStyle = '#222';
  ctx.textAlign = 'center'; ctx.textBaseline = 'middle';
  obsTickLabels.forEach(v=>{ const py = ys.getPixelForValue(v);
    ctx.save(); ctx.translate(chart.chartArea.left - 16, py); ctx.rotate(Math.PI/2);
    ctx.fillText(String(v), 0, 0); ctx.restore(); });
  ctx.restore();
}};
new Chart(document.getElementById('cI'), {type:'line',
  data:{datasets:[{label:'Observation', data:pts(obsYears, obs), borderColor:'#000', borderWidth:3,
    pointRadius:0, tension:0, fill:false}]},
  options:Object.assign({}, common, {
    layout:{padding:{top:23, right:24, left:0, bottom:0}},
    scales:{
      x:Object.assign(axisStyle(), {type:'linear', min:1960, max:2005,
        grid:{display:true, drawOnChartArea:false, drawTicks:true, tickLength:5, color:'#666', lineWidth:1},
        border:{display:true, color:'#666', width:1},
        afterBuildTicks:s=>{ s.ticks = insetYearTicks.map(v=>({value:v})); },
        afterFit:s=>{ s.height = 38; },
        ticks:{maxRotation:0, minRotation:0, autoSkip:false, padding:5, color:'#222',
          font:{size:12, family:FONT}, callback:v=>String(v)}}),
      y:Object.assign(axisStyle(), {min:0, max:0.8,
        grid:{display:true, drawOnChartArea:false, drawTicks:true, tickLength:5, color:'#666', lineWidth:1},
        border:{display:true, color:'#666', width:1},
        afterBuildTicks:s=>{ s.ticks = obsTickMarks.map(v=>({value:v})); },
        afterFit:s=>{ s.width = 87; },
        ticks:{display:false},
        title:{display:true, text:'Snow Depth /cm', color:'#222', font:{size:11, family:FONT}, padding:{top:41, bottom:0}}})
    }
  }), plugins:[insetLabels]});

// ---------- legend ----------
const legendColX = [235,378,531,646,818,961,1103];
const legendRowY = [1197,1226,1254];
const legendEl = document.getElementById('legend');
seriesNames.forEach((name,i)=>{
  const r = Math.floor(i/7), c = i%7;
  const w = (c < 6 ? legendColX[c+1] : 1503) - legendColX[c];
  const d = document.createElement('div');
  d.className = 'leg';
  d.style.left = legendColX[c] + 'px';
  d.style.top = (legendRowY[r] - 9) + 'px';
  d.style.width = w + 'px';
  const m = document.createElement('i'); m.style.background = seriesColors[i];
  const t = document.createElement('span'); t.textContent = name;
  d.appendChild(m); d.appendChild(t); legendEl.appendChild(d);
});
</script>
</body></html>
